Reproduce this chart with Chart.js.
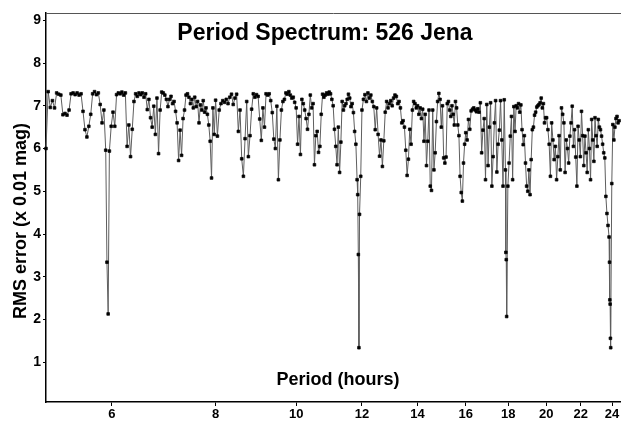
<!DOCTYPE html>
<html>
<head>
<meta charset="utf-8">
<title>Period Spectrum: 526 Jena</title>
<script src="https://cdn.jsdelivr.net/npm/chart.js@4.4.0/dist/chart.umd.min.js"></script>
<style>
  html, body { margin: 0; padding: 0; background: #fff; }
  #wrap { width: 621px; height: 422px; }
</style>
</head>
<body>
<div id="wrap"><canvas id="spectrum" width="621" height="422"></canvas></div>
<script>
// Period spectrum of 526 Jena: RMS fit error (x 0.01 mag) against trial period (hours)
const chartTitle = 'Period Spectrum: 526 Jena';
const xTitle = 'Period (hours)';
const yTitle = 'RMS error (x 0.01 mag)';
const xTickValues = [6, 8, 10, 12, 14, 16, 18, 20, 22, 24];

// 5 - 8 h
const period05to08 = [
  5.00,5.03,5.06,5.09,5.12,5.15,5.18,5.21,5.24,5.27,
  5.30,5.33,5.36,5.39,5.42,5.45,5.48,5.51,5.54,5.57,
  5.60,5.63,5.66,5.69,5.72,5.75,5.78,5.81,5.84,5.87,
  5.90,5.92,5.94,5.96,5.99,6.02,6.05,6.08,6.11,6.14,
  6.17,6.20,6.23,6.26,6.29,6.32,6.35,6.38,6.41,6.44,
  6.47,6.50,6.53,6.56,6.59,6.62,6.65,6.68,6.71,6.74,
  6.77,6.80,6.83,6.86,6.89,6.92,6.95,6.98,7.01,7.04,
  7.07,7.10,7.13,7.16,7.19,7.22,7.25,7.28,7.31,7.34,
  7.37,7.40,7.43,7.46,7.49,7.52,7.55,7.58,7.61,7.64,
  7.67,7.70,7.73,7.76,7.79,7.82,7.85,7.88,7.91,7.94,
  7.97
];
const rms05to08 = [
  6.00,7.33,6.96,7.12,6.95,7.30,7.27,7.25,6.79,6.82,
  6.78,6.90,7.28,7.30,7.26,7.30,7.25,7.28,6.87,6.44,
  6.27,6.52,6.80,7.28,7.33,7.26,7.30,7.03,6.60,6.90,
  5.96,3.34,2.13,5.94,6.52,6.85,6.52,7.26,7.30,7.28,
  7.32,7.25,7.30,6.05,6.55,5.81,6.45,7.10,7.28,7.22,
  7.30,7.26,7.30,7.20,7.28,6.91,7.15,6.72,6.50,6.99,
  6.33,7.18,5.88,6.90,7.32,7.30,7.25,7.15,6.98,7.15,
  7.22,7.05,7.10,6.87,6.60,5.72,6.43,5.84,6.70,6.90,
  7.25,7.28,7.20,7.05,7.15,6.95,7.20,6.98,7.10,6.60,
  7.02,6.90,7.12,6.85,6.95,6.80,6.55,6.17,5.31,6.95,
  6.33
];

// 8 - 12 h
const period08to12 = [
  8.00,8.04,8.08,8.12,8.16,8.20,8.24,8.28,8.32,8.36,
  8.40,8.44,8.48,8.52,8.56,8.60,8.64,8.68,8.72,8.76,
  8.80,8.84,8.88,8.92,8.96,9.00,9.04,9.08,9.12,9.16,
  9.20,9.24,9.28,9.32,9.36,9.40,9.44,9.48,9.52,9.56,
  9.60,9.64,9.68,9.72,9.76,9.80,9.84,9.88,9.92,9.96,
  10.00,10.04,10.08,10.12,10.16,10.20,10.24,10.28,10.32,10.36,
  10.40,10.44,10.48,10.52,10.56,10.60,10.64,10.68,10.72,10.76,
  10.80,10.84,10.88,10.92,10.96,11.00,11.04,11.08,11.12,11.16,
  11.20,11.24,11.28,11.32,11.36,11.40,11.44,11.48,11.52,11.56,
  11.60,11.64,11.68,11.72,11.76,11.80,11.84,11.86,11.88,11.90,
  11.92,11.96
];
const rms08to12 = [
  7.13,6.29,6.90,7.05,7.12,7.08,7.15,7.05,7.20,7.27,
  7.03,7.18,7.27,6.40,6.90,5.76,5.35,6.23,7.10,5.81,
  6.30,6.92,7.28,7.20,7.26,7.22,6.69,6.19,6.95,6.50,
  7.28,7.25,7.28,7.12,6.84,6.22,6.00,6.99,5.27,6.20,
  6.90,7.10,7.15,7.30,7.27,7.33,7.25,7.18,7.20,7.08,
  6.95,6.10,6.75,5.86,7.15,7.05,6.90,6.70,6.45,6.80,
  7.25,6.95,7.05,5.62,6.30,6.40,5.91,6.05,6.80,7.27,
  7.20,7.25,7.30,7.27,7.32,7.28,7.15,7.00,6.45,6.05,
  5.62,6.50,5.44,6.15,7.10,6.90,7.00,7.05,7.15,7.27,
  7.18,6.98,7.05,6.84,6.40,6.10,5.27,4.92,3.52,1.34,
  4.46,5.35
];

// 12 - 16 h
const period12to16 = [
  12.00,12.05,12.10,12.15,12.20,12.25,12.30,12.35,12.40,12.45,
  12.50,12.55,12.60,12.65,12.70,12.75,12.80,12.85,12.90,12.95,
  13.00,13.05,13.10,13.15,13.20,13.25,13.30,13.35,13.40,13.45,
  13.50,13.55,13.60,13.65,13.70,13.75,13.80,13.85,13.90,13.95,
  14.00,14.05,14.10,14.15,14.20,14.25,14.30,14.35,14.40,14.45,
  14.50,14.55,14.60,14.65,14.70,14.75,14.80,14.85,14.90,14.95,
  15.00,15.05,15.10,15.15,15.20,15.25,15.30,15.35,15.40,15.45,
  15.50,15.55,15.60,15.65,15.70,15.75,15.80,15.85,15.90,15.95
];
const rms12to16 = [
  6.90,7.15,7.26,7.10,7.30,7.18,7.25,7.10,6.98,6.44,
  6.95,6.33,5.82,6.20,5.58,6.18,6.85,7.10,6.95,7.05,
  7.12,7.00,7.18,7.25,7.22,7.05,7.10,6.95,6.60,6.65,
  6.50,5.96,5.37,5.75,6.45,6.10,6.90,7.10,7.05,6.95,
  7.00,6.80,6.95,6.70,6.92,6.17,6.80,5.60,6.17,6.90,
  5.12,5.02,6.90,5.50,5.90,6.63,7.10,7.29,7.15,6.50,
  7.00,5.78,5.66,5.80,7.05,7.10,6.90,6.75,7.00,6.80,
  6.55,7.10,6.95,6.55,6.30,5.35,4.97,4.77,5.66,6.10
];

// 16 - 20 h
const period16to20 = [
  16.00,16.06,16.12,16.18,16.24,16.30,16.36,16.42,16.48,16.54,
  16.60,16.66,16.72,16.78,16.84,16.90,16.96,17.02,17.08,17.14,
  17.20,17.26,17.32,17.38,17.44,17.50,17.56,17.62,17.68,17.74,
  17.80,17.86,17.88,17.90,17.92,17.98,18.04,18.10,18.16,18.22,
  18.28,18.34,18.40,18.46,18.52,18.58,18.64,18.70,18.76,18.82,
  18.88,18.94,19.00,19.06,19.12,19.18,19.24,19.30,19.36,19.42,
  19.48,19.54,19.60,19.66,19.72,19.78,19.84,19.90,19.96
];
const rms16to20 = [
  6.37,6.20,6.68,6.45,6.88,6.92,6.95,6.90,6.86,6.93,
  6.85,7.07,5.90,6.43,6.70,5.27,7.03,5.60,6.50,7.07,
  5.12,5.81,6.60,7.12,5.45,6.10,6.43,7.12,6.20,5.12,
  7.14,5.50,3.57,3.40,2.07,5.12,5.66,6.29,6.75,5.27,
  6.98,6.40,7.00,6.95,7.05,6.85,7.02,6.44,6.09,6.30,
  5.66,5.12,5.00,5.50,4.92,5.74,6.44,6.50,6.78,6.85,
  6.97,7.00,7.03,7.07,7.18,6.95,7.05,6.60,6.72
];

// 20 - 24.5 h
const period20to25 = [
  20.02,20.09,20.16,20.23,20.30,20.37,20.44,20.51,20.58,20.65,
  20.72,20.79,20.86,20.93,21.00,21.07,21.14,21.21,21.28,21.35,
  21.42,21.49,21.56,21.63,21.70,21.77,21.84,21.91,21.98,22.05,
  22.12,22.19,22.26,22.33,22.40,22.47,22.54,22.61,22.68,22.75,
  22.82,22.89,22.96,23.03,23.10,23.17,23.24,23.31,23.38,23.45,
  23.52,23.59,23.66,23.73,23.80,23.83,23.85,23.87,23.89,23.91,
  23.98,24.05,24.12,24.19,24.26,24.33,24.40,24.47
];
const rms20to25 = [
  6.72,6.44,6.10,5.35,6.60,6.20,5.74,6.05,5.27,5.81,
  6.30,5.50,6.95,6.80,6.60,5.44,6.20,6.00,5.66,6.29,
  6.60,6.99,6.05,6.44,5.80,5.12,6.52,6.20,5.81,6.87,
  6.30,5.60,6.29,5.90,5.44,6.44,6.00,5.27,6.68,6.20,
  5.70,6.72,6.30,6.05,6.68,6.50,6.44,6.29,6.10,5.90,
  5.78,4.88,4.48,4.20,3.93,3.34,2.46,2.36,1.56,1.34,
  5.18,6.56,6.20,6.50,6.70,6.75,6.60,6.65
];

const periods = [...period05to08, ...period08to12, ...period12to16, ...period16to20, ...period20to25];
const rmsError = [...rms05to08, ...rms08to12, ...rms12to16, ...rms16to20, ...rms20to25];

const FONT = "'Liberation Sans', Arial, Helvetica, sans-serif";

// titles sit inside the frame, so they are painted by hand after the chart
const frameLabels = {
  id: 'frameLabels',
  afterDraw(chart) {
    const { ctx, chartArea: a } = chart;
    ctx.save();
    ctx.strokeStyle = '#555';
    ctx.lineWidth = 1;
    ctx.beginPath();
    ctx.moveTo(a.left, a.top + 0.5);
    ctx.lineTo(a.right, a.top + 0.5);
    ctx.stroke();

    ctx.fillStyle = '#000';
    ctx.textAlign = 'center';
    ctx.textBaseline = 'middle';
    ctx.font = `bold 23px ${FONT}`;
    ctx.fillText(chartTitle, 325, 34);
    ctx.font = `bold 18px ${FONT}`;
    ctx.fillText(xTitle, 338, 380);
    ctx.translate(21, 221);
    ctx.rotate(-Math.PI / 2);
    ctx.fillText(yTitle, 0, 0);
    ctx.restore();
  }
};

new Chart(document.getElementById('spectrum'), {
  type: 'line',
  data: {
    datasets: [{
      data: periods.map((p, i) => ({ x: p, y: rmsError[i] })),
      borderColor: '#5e5e5e',
      borderWidth: 1,
      pointStyle: 'rect',
      pointRadius: 1.9,
      pointHoverRadius: 0,
      pointBorderWidth: 0.7,
      pointBackgroundColor: '#000',
      pointBorderColor: '#000',
      tension: 0,
      clip: 2
    }]
  },
  options: {
    responsive: false,
    devicePixelRatio: 1,
    animation: false,
    layout: { autoPadding: false, padding: { top: 13, left: 0, right: 0, bottom: 0 } },
    plugins: { legend: { display: false }, tooltip: { enabled: false } },
    scales: {
      x: {
        type: 'logarithmic',
        min: 5.0,
        max: 24.6,
        afterBuildTicks: s => { s.ticks = xTickValues.map(v => ({ value: v })); },
        afterFit: s => { s.height = 20; s.paddingLeft = 0; s.paddingRight = 0; },
        ticks: {
          autoSkip: false,
          maxRotation: 0,
          padding: 1,
          color: '#000',
          font: { family: FONT, size: 13, weight: 'bold' },
          callback: v => String(v)
        },
        grid: { drawOnChartArea: false, drawTicks: true, tickLength: 4, color: '#000' },
        border: { display: true, color: '#000', width: 1.5 }
      },
      y: {
        min: 0.07,
        max: 9.17,
        afterFit: s => { s.width = 46; },
        ticks: {
          stepSize: 1,
          includeBounds: false,
          padding: 2,
          color: '#000',
          font: { family: FONT, size: 14, weight: 'bold' }
        },
        grid: { drawOnChartArea: false, drawTicks: true, tickLength: 3, color: '#000' },
        border: { display: true, color: '#000', width: 1.5 }
      }
    }
  },
  plugins: [frameLabels]
});
</script>
</body>
</html>
